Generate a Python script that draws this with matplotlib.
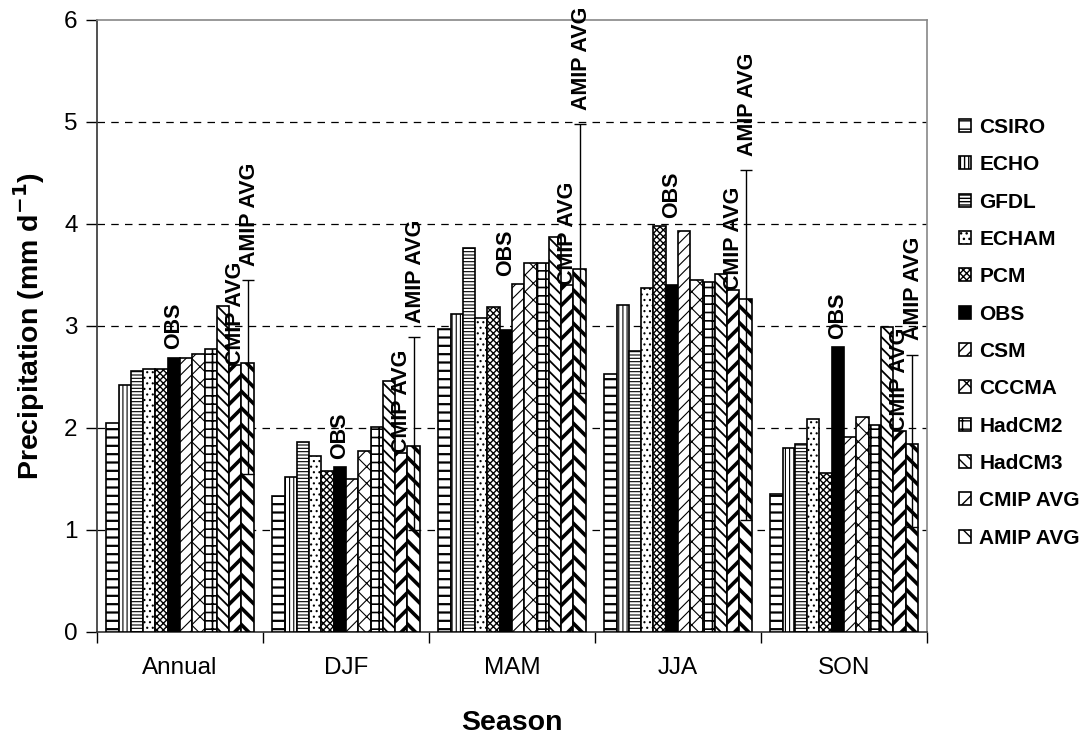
import matplotlib
matplotlib.use('Agg')
import matplotlib.pyplot as plt
import numpy as np
from matplotlib.patches import Patch

plt.rcParams['font.family'] = ['Liberation Sans', 'DejaVu Sans']

seasons = ['Annual', 'DJF', 'MAM', 'JJA', 'SON']
models = ['CSIRO', 'ECHO', 'GFDL', 'ECHAM', 'PCM', 'OBS', 'CSM', 'CCCMA',
          'HadCM2', 'HadCM3', 'CMIP AVG', 'AMIP AVG']

csiro = [2.05, 1.33, 2.97, 2.53, 1.35]
echo = [2.42, 1.52, 3.12, 3.21, 1.80]
gfdl = [2.56, 1.86, 3.76, 2.75, 1.84]
echam = [2.58, 1.73, 3.08, 3.37, 2.09]
pcm = [2.58, 1.58, 3.19, 3.98, 1.56]
obs = [2.69, 1.62, 2.96, 3.40, 2.79]
csm = [2.69, 1.50, 3.41, 3.93, 1.91]
cccma = [2.73, 1.77, 3.62, 3.45, 2.11]
hadcm2 = [2.77, 2.01, 3.62, 3.43, 2.03]
hadcm3 = [3.20, 2.46, 3.87, 3.51, 2.99]
cmip_avg = [2.62, 1.75, 3.40, 3.35, 1.97]
amip_avg = [2.64, 1.82, 3.56, 3.26, 1.84]
amip_low = [1.55, 1.00, 2.34, 1.10, 1.03]
amip_high = [3.45, 2.89, 4.98, 4.53, 2.72]

series = [csiro, echo, gfdl, echam, pcm, obs, csm, cccma, hadcm2, hadcm3,
          cmip_avg, amip_avg]

# styles: (facecolor, hatch, hatch linewidth)
styles = [
    ('white', '--', 1.6),
    ('white', '||||', 0.8),
    ('white', '-----', 0.8),
    ('white', '...', 0.8),
    ('white', 'xxxxx', 1.0),
    ('black', '', 1.0),
    ('white', '///', 0.8),
    ('white', 'xx', 0.8),
    ('white', '++', 1.2),
    ('white', '\\\\\\', 1.3),
    ('white', '//', 2.6),
    ('white', '\\\\', 2.6),
]

fig = plt.figure(figsize=(10.91, 7.40), dpi=100)
ax = fig.add_axes([0.0889, 0.146, 0.7608, 0.827])

n = len(models)
w = 1.0 / (n + 1.5)
x = np.arange(len(seasons))
offsets = (np.arange(n) - (n - 1) / 2) * w

for i, (vals, (fc, h, hlw)) in enumerate(zip(series, styles)):
    with plt.rc_context({'hatch.linewidth': hlw}):
        bars = ax.bar(x + offsets[i], vals, w, color=fc, edgecolor='black',
                      linewidth=1.2, hatch=h, zorder=3, label=models[i])
    for b in bars:
        try:
            b.set_hatch_linewidth(hlw)
        except Exception:
            pass

# error bars on AMIP AVG
amip = np.array(amip_avg)
yerr = np.vstack([amip - np.array(amip_low), np.array(amip_high) - amip])
ax.errorbar(x + offsets[11], amip, yerr=yerr, fmt='none', ecolor='black',
            elinewidth=1.0, capsize=4.5, capthick=1.0, zorder=4)

# labels
lab_kw = dict(rotation=90, ha='center', va='bottom', fontsize=15.5,
              fontweight='bold', zorder=5)
obs_i = models.index('OBS')
for j in range(len(seasons)):
    top = max(series[obs_i - 1][j], series[obs_i][j], series[obs_i + 1][j])
    ax.text(x[j] + offsets[obs_i], top + 0.08, 'OBS', **lab_kw)
    ax.text(x[j] + offsets[10], cmip_avg[j], 'CMIP AVG', **lab_kw)
    ax.text(x[j] + offsets[11] + 0.01, amip_high[j] + 0.14, 'AMIP AVG', **lab_kw)

ax.set_xlim(-0.5, len(seasons) - 0.5)
ax.set_ylim(0, 6)
ax.set_yticks(range(0, 7))
ax.set_xticks(x)
ax.set_xticklabels(seasons)
ax.set_xticks(np.arange(-0.5, len(seasons)), minor=True)
ax.tick_params(axis='x', which='major', length=0, labelsize=17.5, pad=18)
ax.tick_params(axis='x', which='minor', length=8, width=1.0, direction='out')
ax.tick_params(axis='y', length=8, width=1.0, direction='out', labelsize=17.5, pad=6)

for yv in range(1, 6):
    ax.axhline(yv, color='black', lw=0.9, ls=(0, (6, 5)), zorder=1)

ax.spines['left'].set_color('#333333')
ax.spines['bottom'].set_color('#333333')
ax.spines['left'].set_linewidth(1.2)
ax.spines['bottom'].set_linewidth(1.2)
ax.spines['top'].set_color('#888888')
ax.spines['right'].set_color('#888888')
ax.spines['top'].set_linewidth(1.2)
ax.spines['right'].set_linewidth(1.2)

ax.set_ylabel('Precipitation (mm d$^{\\mathbf{-1}}$)', fontsize=20.5,
              fontweight='bold', labelpad=12)
ax.set_xlabel('Season', fontsize=20.5, fontweight='bold', labelpad=22)

handles = []
for (fc, h, hlw), m in zip(styles, models):
    p = Patch(facecolor=fc, edgecolor='black', hatch=h, linewidth=1.2, label=m)
    try:
        p.set_hatch_linewidth(min(hlw, 1.0))
    except Exception:
        pass
    handles.append(p)
leg = fig.legend(handles=handles, loc='upper left',
                 bbox_to_anchor=(0.871, 0.852), frameon=False,
                 prop={'size': 15, 'weight': 'bold'}, handlelength=0.6,
                 handleheight=0.6, handletextpad=0.4, labelspacing=0.88,
                 borderaxespad=0)

fig.savefig('out.png', dpi=100)
